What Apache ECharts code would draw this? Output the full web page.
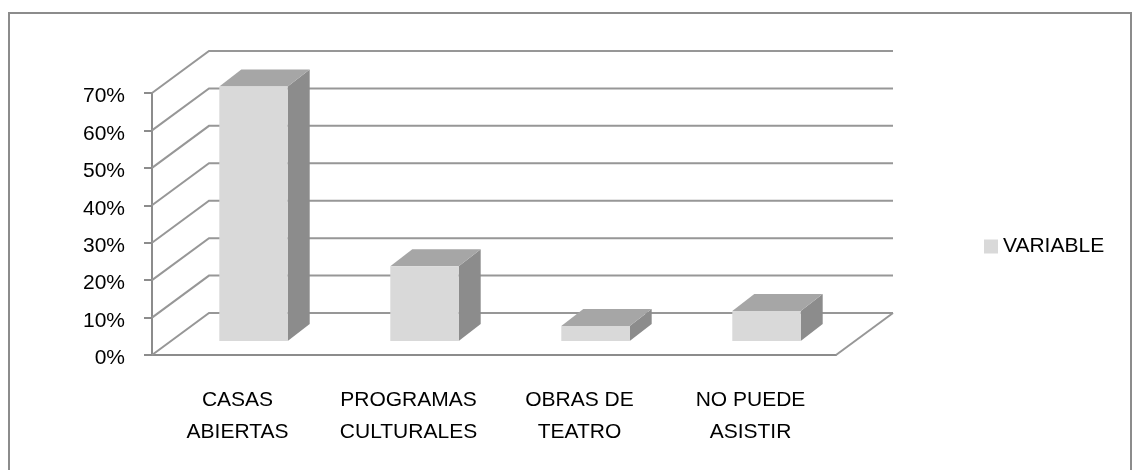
<!DOCTYPE html>
<html>
<head>
    <meta charset="utf-8">
    <title>ECharts</title>
    <script src="https://cdn.jsdelivr.net/npm/echarts@6/dist/echarts.min.js"></script>
    <style>
        html, body { margin: 0; padding: 0; background: #fff; }
    </style>
</head>
<body>
    <div id="main" style="width: 1133px;height:470px;"></div>
    <script type="text/javascript">
        // datos del grafico
        var categories = ['CASAS\nABIERTAS', 'PROGRAMAS\nCULTURALES', 'OBRAS DE\nTEATRO', 'NO PUEDE\nASISTIR'];
        var values = [68, 20, 4, 8];
        var yTicks = [0, 10, 20, 30, 40, 50, 60, 70];
        var seriesName = 'VARIABLE';

        var chart = echarts.init(document.getElementById('main'));
        var FONT = 'Liberation Sans';

        // profundidad del "piso" y de las barras (efecto 3D)
        var DX = 57, DY = 42;
        var OX = 16, OY = 14;
        var BX = 22, BY = 17;

        function renderGrid(params, api) {
            var v = api.value(1);
            var band = api.size([1, 0])[0];
            var p = api.coord([0, v]);
            var x0 = p[0] - band / 2;
            var x1 = x0 + band * categories.length;
            var y = p[1];
            var style = { stroke: '#979797', lineWidth: 2, fill: null };
            var children = [{
                type: 'polyline',
                shape: { points: [[x0, y], [x0 + DX, y - DY], [x1 + DX, y - DY]] },
                style: style
            }];
            if (v === 0) {
                children.push({
                    type: 'line',
                    shape: { x1: x1, y1: y, x2: x1 + DX, y2: y - DY },
                    style: style
                });
            }
            return { type: 'group', children: children };
        }

        function renderBar(params, api) {
            var i = api.value(0);
            var top = api.coord([i, api.value(1)]);
            var base = api.coord([i, 0]);
            var band = api.size([1, 0])[0];
            var w = band * 0.4;
            var x = top[0] - w / 2 + OX;
            var yt = top[1] - OY;
            var yb = base[1] - OY;
            return {
                type: 'group',
                children: [
                    {
                        type: 'polygon',
                        shape: { points: [[x + w, yt], [x + w + BX, yt - BY], [x + w + BX, yb - BY], [x + w, yb]] },
                        style: { fill: '#8c8c8c' }
                    },
                    {
                        type: 'polygon',
                        shape: { points: [[x, yt], [x + w, yt], [x + w + BX, yt - BY], [x + BX, yt - BY]] },
                        style: { fill: '#a6a6a6' }
                    },
                    {
                        type: 'rect',
                        shape: { x: x, y: yt, width: w, height: yb - yt },
                        style: { fill: '#d9d9d9' }
                    }
                ]
            };
        }

        var option = {
            backgroundColor: '#fff',
            animation: false,
            graphic: [{
                type: 'rect',
                shape: { x: 9, y: 13, width: 1122, height: 500 },
                style: { fill: null, stroke: '#8c8c8c', lineWidth: 2 },
                silent: true
            }],
            legend: {
                data: [seriesName],
                left: 979,
                top: 231,
                icon: 'rect',
                itemWidth: 14,
                itemHeight: 14,
                textStyle: { fontFamily: FONT, fontSize: 21, color: '#000' }
            },
            grid: {
                left: 152,
                right: 297,
                top: 93,
                bottom: 115
            },
            xAxis: {
                type: 'category',
                data: categories,
                axisLine: { lineStyle: { color: '#8c8c8c', width: 2 } },
                axisTick: { length: 8, lineStyle: { color: '#8c8c8c', width: 2 } },
                axisLabel: {
                    interval: 0,
                    fontFamily: FONT,
                    fontSize: 21,
                    lineHeight: 32,
                    color: '#000',
                    margin: 29
                }
            },
            yAxis: {
                type: 'value',
                min: 0,
                max: 70,
                interval: 10,
                splitLine: { show: false },
                axisLine: { show: true, lineStyle: { color: '#8c8c8c', width: 2 } },
                axisTick: { show: true, length: 8, lineStyle: { color: '#8c8c8c', width: 2 } },
                axisLabel: {
                    formatter: '{p|{value}%}',
                    margin: 27,
                    rich: {
                        p: {
                            fontFamily: FONT,
                            fontSize: 21,
                            color: '#000',
                            padding: [7, 0, 0, 0]
                        }
                    }
                }
            },
            series: [
                {
                    name: 'grid3d',
                    type: 'custom',
                    silent: true,
                    z: 1,
                    renderItem: renderGrid,
                    data: yTicks.map(function (v) { return [0, v]; })
                },
                {
                    name: seriesName,
                    type: 'custom',
                    z: 3,
                    itemStyle: { color: '#d9d9d9' },
                    renderItem: renderBar,
                    data: values.map(function (v, i) { return [i, v]; })
                }
            ]
        };

        chart.setOption(option);
    </script>
</body>
</html>
